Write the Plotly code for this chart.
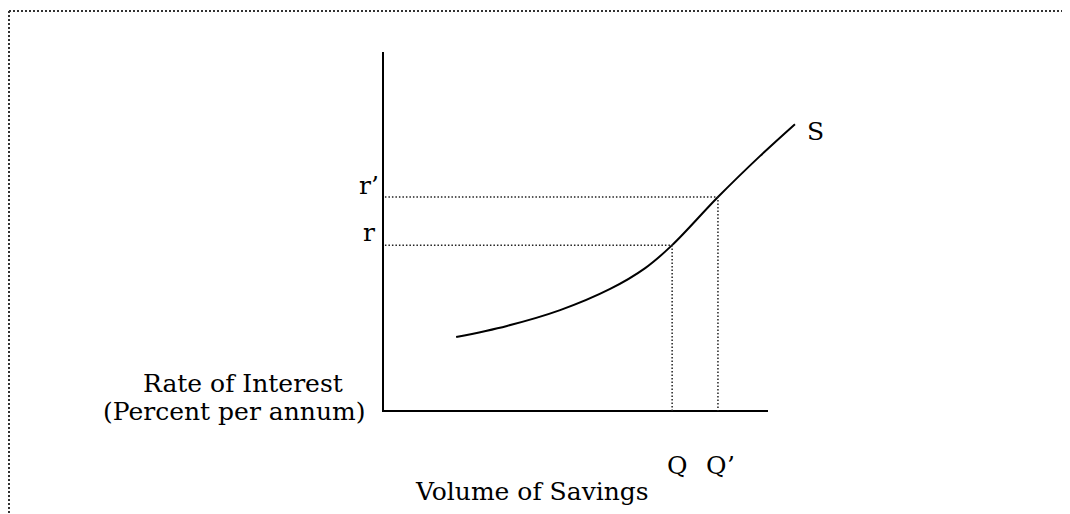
import plotly.graph_objects as go

# Savings supply curve S (volume of savings vs rate of interest), in chart units
savings = [1.90, 3.22, 4.60, 5.90, 6.81, 7.51, 8.70, 9.79, 10.70]
interest = [2.06, 2.37, 2.81, 3.40, 3.98, 4.62, 5.96, 7.10, 7.99]

# Marked points
Q, Q_prime = 7.51, 8.70
r, r_prime = 4.62, 5.96
axis_len_x, axis_len_y = 10.0, 10.0

OFF = 8                      # page body margin
W, H = 1070 - OFF, 514 - OFF
ox, oy = 383 - OFF, 411 - OFF   # origin in figure pixels
ux, uy = 38.5, 35.9             # pixels per unit

xr = [-ox / ux, (W - ox) / ux]
yr = [-(H - oy) / uy, oy / uy]

FONT = "DejaVu Serif"

fig = go.Figure()

# axes
fig.add_trace(go.Scatter(x=[0, 0, axis_len_x], y=[axis_len_y, 0, 0], mode="lines",
                         line=dict(color="black", width=2), hoverinfo="skip"))
# supply curve
fig.add_trace(go.Scatter(x=savings, y=interest, mode="lines",
                         line=dict(color="black", width=2, shape="spline", smoothing=1.0),
                         hoverinfo="skip"))
# dotted guides
dot = dict(color="#222222", width=1.5, dash="1.5px,2px")
for qx, ry in [(Q, r), (Q_prime, r_prime)]:
    fig.add_trace(go.Scatter(x=[0.05, qx, qx], y=[ry, ry, 0], mode="lines",
                             line=dot, hoverinfo="skip"))

def P(px, py):
    return (px - OFF) / W, 1 - (py - OFF) / H

def label(text, px, py, size=25, anchor="left"):
    x, y = P(px, py)
    fig.add_annotation(x=x, y=y, xref="paper", yref="paper", text=text, showarrow=False,
                       xanchor=anchor, yanchor="middle",
                       font=dict(family=FONT, size=size, color="black"))

label("S", 815, 131, anchor="center")
label("r’", 369, 186, anchor="center")
label("r", 369, 232, anchor="center")
label("Rate of Interest", 141, 383)
label("(Percent per annum)", 101, 411)
label("Q", 677, 465, anchor="center")
label("Q’", 720, 465, anchor="center")
label("Volume of Savings", 413, 491)

# dotted frame (top and left edges)
frame = dict(color="#333333", width=2, dash="2px,2px")
fx, fy = P(9, 11)
fig.add_shape(type="line", xref="paper", yref="paper", x0=fx, x1=1, y0=fy, y1=fy, line=frame)
fig.add_shape(type="line", xref="paper", yref="paper", x0=fx, x1=fx, y0=fy, y1=0, line=frame)

fig.update_layout(width=W, height=H, margin=dict(l=0, r=0, t=0, b=0),
                  paper_bgcolor="white", plot_bgcolor="white", showlegend=False,
                  xaxis=dict(range=xr, visible=False, fixedrange=True),
                  yaxis=dict(range=yr, visible=False, fixedrange=True))

fig.write_html("out.html", config={"displayModeBar": False})
